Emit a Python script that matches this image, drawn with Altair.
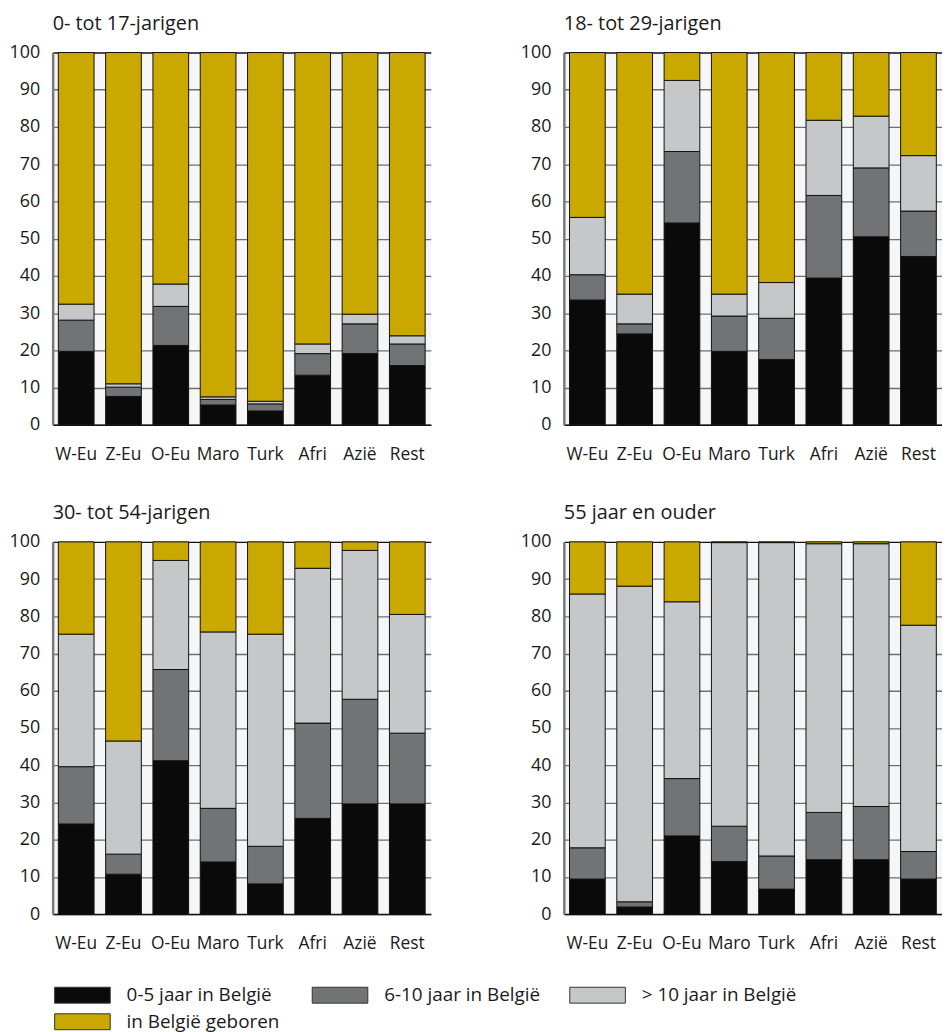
import altair as alt
import pandas as pd

regions = ["W-Eu", "Z-Eu", "O-Eu", "Maro", "Turk", "Afri", "Azië", "Rest"]
series = ["0-5 jaar in België", "6-10 jaar in België", "> 10 jaar in België", "in België geboren"]
colors = ["#0a0a0a", "#727375", "#c6c7c9", "#c9a800"]
panels = ["0- tot 17-jarigen", "18- tot 29-jarigen", "30- tot 54-jarigen", "55 jaar en ouder"]

# Cumulative top of each segment (percent); the gold segment reaches 100
p1_black = [19.7, 7.6, 21.3, 5.3, 3.7, 13.3, 19.1, 15.9]
p1_dark = [28.1, 10.1, 31.8, 6.8, 5.6, 19.1, 27.1, 21.7]
p1_light = [32.4, 11.0, 37.8, 7.5, 6.3, 21.7, 29.7, 23.9]

p2_black = [33.5, 24.4, 54.2, 19.7, 17.5, 39.4, 50.5, 45.2]
p2_dark = [40.3, 27.1, 73.4, 29.2, 28.6, 61.6, 69.0, 57.4]
p2_light = [55.7, 35.1, 92.5, 35.1, 38.2, 81.8, 82.9, 72.3]

p3_black = [24.2, 10.7, 41.2, 14.0, 8.1, 25.7, 29.6, 29.6]
p3_dark = [39.6, 16.1, 65.7, 28.4, 18.2, 51.3, 57.7, 48.6]
p3_light = [75.2, 46.5, 95.0, 75.8, 75.2, 92.9, 97.7, 80.5]

p4_black = [9.4, 1.9, 21.0, 14.1, 6.7, 14.6, 14.6, 9.4]
p4_dark = [17.8, 3.3, 36.4, 23.6, 15.6, 27.3, 28.9, 16.8]
p4_light = [86.0, 88.1, 83.9, 99.8, 99.8, 99.5, 99.5, 77.6]

cum = [
    (p1_black, p1_dark, p1_light),
    (p2_black, p2_dark, p2_light),
    (p3_black, p3_dark, p3_light),
    (p4_black, p4_dark, p4_light),
]

rows = []
for pi, (b, d, l) in enumerate(cum):
    for ri, reg in enumerate(regions):
        tops = [b[ri], d[ri], l[ri], 100.0]
        prev = 0.0
        for si, s in enumerate(series):
            rows.append({"panel": panels[pi], "region": reg, "series": s,
                         "idx": si, "value": round(tops[si] - prev, 2)})
            prev = tops[si]
df = pd.DataFrame(rows)

FONT = "Open Sans"
TXT = "#1a1a1a"

# wide rectangle legend swatch (height = symbol diameter, width = 3.5x)
legend_path = "M-3.5,-1L3.5,-1L3.5,1L-3.5,1Z"


def panel(name):
    base = alt.Chart(df[df["panel"] == name],
                     title=alt.TitleParams(name, frame="group"))
    return base.mark_bar(stroke="#111", strokeWidth=1).encode(
        x=alt.X("region:N", sort=regions,
                scale=alt.Scale(paddingInner=0.245, paddingOuter=0.12),
                axis=alt.Axis(title=None, labelAngle=0, ticks=False, grid=False,
                              domainColor="#111", domainWidth=1.5, labelPadding=21,
                              labelFont=FONT, labelFontSize=17.5)),
        y=alt.Y("value:Q", stack="zero",
                scale=alt.Scale(domain=[0, 100], nice=False),
                axis=alt.Axis(title=None, values=list(range(0, 101, 10)), ticks=False,
                              domainColor="#7a7a7a", domainWidth=2.5, labelPadding=13,
                              labelFont=FONT, labelFontSize=18,
                              gridColor=alt.condition("datum.value == 100", alt.value("#111"), alt.value("#6f6f6f")),
                              gridWidth=1.3)),
        color=alt.Color("series:N", sort=series,
                        scale=alt.Scale(domain=series, range=colors),
                        legend=alt.Legend(title=None, orient="none", legendX=20.5, legendY=940,
                                          direction="horizontal", columns=3, gridAlign="all",
                                          columnPadding=26.5, rowPadding=6, labelLimit=400,
                                          symbolType=legend_path, symbolSize=256,
                                          symbolStrokeColor="#333", symbolStrokeWidth=1,
                                          symbolOpacity=1, labelOffset=35,
                                          labelFontSize=19, labelFont=FONT, labelColor=TXT)),
        order=alt.Order("idx:Q"),
    ).properties(width=381, height=375)


row1 = alt.hconcat(panel(panels[0]), panel(panels[1]), spacing=90)
row2 = alt.hconcat(panel(panels[2]), panel(panels[3]), spacing=90)
chart = alt.vconcat(row1, row2, spacing=40).properties(
    padding={"left": 1, "top": 2, "right": 0, "bottom": 0}
).configure_view(
    fill="#f6f6f6", stroke=None
).configure_axis(
    labelColor=TXT
).configure_title(
    font=FONT, fontSize=20, fontWeight="normal", color=TXT, anchor="start", offset=10
)

chart.save("out.html", embed_options={"renderer": "svg", "actions": False})
